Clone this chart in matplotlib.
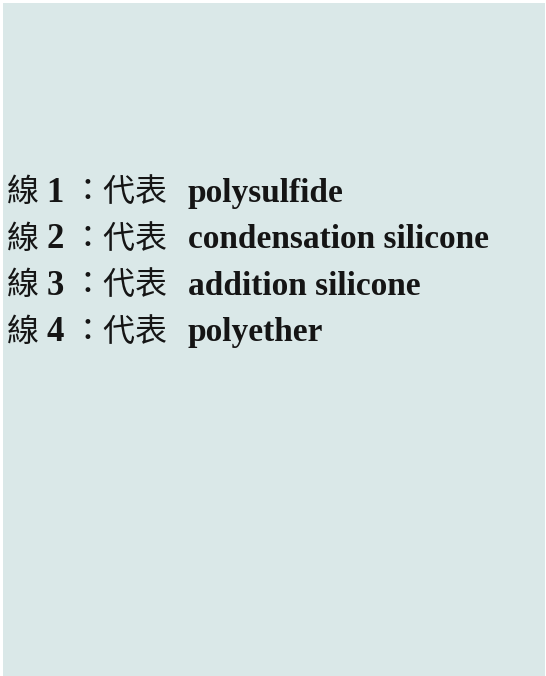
import matplotlib
matplotlib.use("Agg")
import matplotlib.pyplot as plt

line_nums = ["1", "2", "3", "4"]
materials = ["polysulfide", "condensation silicone", "addition silicone", "polyether"]
prefix = "線"
middle = "：代表"

W, H = 546, 676
fig = plt.figure(figsize=(W / 100, H / 100), dpi=100, facecolor="white")
ax = fig.add_axes([3 / W, 0, 1 - 4 / W, 1 - 3 / H])
ax.set_facecolor("#dae8e8")
ax.set_xlim(0, W)
ax.set_ylim(H, 0)
ax.set_xticks([])
ax.set_yticks([])
for s in ax.spines.values():
    s.set_visible(False)

cjk = ["Noto Sans CJK TC", "DejaVu Sans"]
serif = ["Liberation Serif", "DejaVu Serif"]
y0, dy = 190, 46.7
for i, (num, name) in enumerate(zip(line_nums, materials)):
    y = y0 + i * dy
    ax.text(4, y, prefix, family=cjk, fontsize=23, weight="light",
            va="center", ha="left", color="#151515")
    ax.text(44, y + 1, num, family=serif, fontsize=25, weight="bold",
            va="center", ha="left", color="#151515")
    ax.text(69, y, middle, family=cjk, fontsize=23, weight="light",
            va="center", ha="left", color="#151515")
    ax.text(186, y + 1, name, family=serif, fontsize=24, weight="bold",
            va="center", ha="left", color="#151515")

fig.savefig("out.png", dpi=100, facecolor=fig.get_facecolor())
